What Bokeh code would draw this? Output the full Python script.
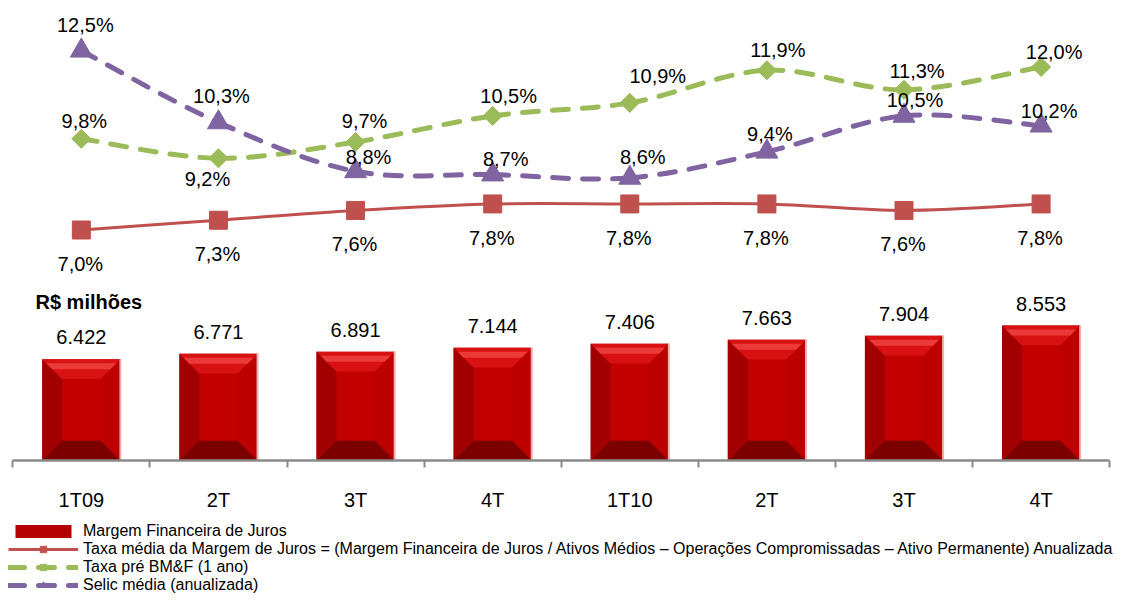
import numpy as np
from bokeh.plotting import figure
from bokeh.models import (Range1d, LinearAxis, FixedTicker, ColumnDataSource,
                          Label, Legend, LegendItem)
from bokeh.core.properties import value
from bokeh.embed import file_html
from bokeh.resources import INLINE

# ---------------- data ----------------
categories = ["1T09", "2T", "3T", "4T", "1T10", "2T", "3T", "4T"]
margem = [6422, 6771, 6891, 7144, 7406, 7663, 7904, 8553]          # R$ milhões
taxa_margem = [7.0, 7.3, 7.6, 7.8, 7.8, 7.8, 7.6, 7.8]              # %
taxa_pre = [9.8, 9.2, 9.7, 10.5, 10.9, 11.9, 11.3, 12.0]            # %
selic = [12.5, 10.3, 8.8, 8.7, 8.6, 9.4, 10.5, 10.2]                # %

legend_labels = [
    "Margem Financeira de Juros",
    "Taxa média da Margem de Juros = (Margem Financeira de Juros / Ativos Médios – "
    "Operações Compromissadas – Ativo Permanente) Anualizada",
    "Taxa pré BM&F (1 ano)",
    "Selic média (anualizada)",
]

# label offsets (pixels) – style only
red_dx = [-1] * 8
red_dy = [34] * 8
green_dx = [3, -11, 9, 16, 28, 11, 13, 13]
green_dy = [-18, 21, -21, -20, -27, -20, -19, -15]
purple_dx = [4, 3, 13, 13, 13, 3, 11, 8]
purple_dy = [-26, -26, -14, -16, -21, -18, -16, -15]

RED = "#c0504d"
GREEN = "#9bbb59"
PURPLE = "#8064a2"
FONT = "Liberation Sans"

n = len(categories)
xc = [i + 0.5 for i in range(n)]

p = figure(width=1113, height=594,
           x_range=Range1d(-0.0897, 8.028), y_range=Range1d(-8496, 29164),
           output_backend="svg", toolbar_location=None,
           x_axis_location=None, y_axis_location=None,
           min_border=0, outline_line_color=None, background_fill_color="white")
for g in p.grid:
    g.visible = False
p.extra_y_ranges = {"pct": Range1d(-4.181, 14.040)}

# ---------------- bars (bevelled) ----------------
PX = 1 / 137.1   # x data per pixel
PY = 63.4        # y data per pixel
hw = 0.285
bev = 20
bx, byy = bev * PX, bev * PY
L = [c - hw for c in xc]
R = [c + hw for c in xc]

bars = p.quad(left=L, right=R, bottom=0, top=margem, fill_color="#b40000", line_color=None)

def trap(pts_fn, color):
    xs, ys = [], []
    for l, r, v in zip(L, R, margem):
        pts = pts_fn(l, r, v)
        xs.append([q[0] for q in pts])
        ys.append([q[1] for q in pts])
    p.patches(xs=xs, ys=ys, fill_color=color, line_color=None)

# left, right, bottom, top bevels
trap(lambda l, r, v: [(l, 0), (l + bx, byy), (l + bx, v - byy), (l, v)], "#a20000")
trap(lambda l, r, v: [(r, 0), (r, v), (r - bx, v - byy), (r - bx, byy)], "#bd0000")
trap(lambda l, r, v: [(l, 0), (r, 0), (r - bx, byy), (l + bx, byy)], "#7c0000")
trap(lambda l, r, v: [(l, v), (r, v), (r - bx, v - byy), (l + bx, v - byy)], "#d81212")
# highlight band in top bevel
d1, d2 = 4, 10
trap(lambda l, r, v: [(l + d1 * PX, v - d1 * PY), (r - d1 * PX, v - d1 * PY),
                      (r - d2 * PX, v - d2 * PY), (l + d2 * PX, v - d2 * PY)], "#ec3a3a")
# inner face
p.quad(left=[l + bx for l in L], right=[r - bx for r in R], bottom=byy,
       top=[v - byy for v in margem], fill_color="#c20000", line_color=None)
# light right edge
p.segment(x0=R, y0=0, x1=R, y1=margem, line_color="#eeb0b0", line_width=2)

# bar value labels
bar_txt = [f"{v:,}".replace(",", ".") for v in margem]
p.text(x=xc, y=margem, text=bar_txt, y_offset=-22,
       text_font=value(FONT), text_font_size="20px",
       text_align="center", text_baseline="middle", text_color="black")

# ---------------- smoothed lines ----------------
def bezier_cols(vals):
    P = [np.array([x, y]) for x, y in zip(xc, vals)]
    cols = {k: [] for k in ["x0", "y0", "x1", "y1", "cx0", "cy0", "cx1", "cy1"]}
    m = len(P)
    for i in range(m - 1):
        p0 = P[i - 1] if i > 0 else P[i]
        p3 = P[i + 2] if i + 2 < m else P[i + 1]
        c0 = P[i] + (P[i + 1] - p0) / 6.0
        c1 = P[i + 1] - (p3 - P[i]) / 6.0
        cols["x0"].append(P[i][0]); cols["y0"].append(P[i][1])
        cols["x1"].append(P[i + 1][0]); cols["y1"].append(P[i + 1][1])
        cols["cx0"].append(c0[0]); cols["cy0"].append(c0[1])
        cols["cx1"].append(c1[0]); cols["cy1"].append(c1[1])
    return ColumnDataSource(cols)

BZ = dict(x0="x0", y0="y0", x1="x1", y1="y1", cx0="cx0", cy0="cy0", cx1="cx1", cy1="cy1",
          y_range_name="pct")
ln_red = p.bezier(source=bezier_cols(taxa_margem), line_color=RED, line_width=3, **BZ)
ln_green = p.bezier(source=bezier_cols(taxa_pre), line_color=GREEN, line_width=5,
                    line_dash="16 14", line_cap="round", **BZ)
ln_purple = p.bezier(source=bezier_cols(selic), line_color=PURPLE, line_width=5,
                     line_dash="16 14", line_cap="round", **BZ)

sq = p.scatter(xc, taxa_margem, marker="square", size=18, fill_color=RED, line_color=RED,
               y_range_name="pct")
dm = p.scatter(xc, taxa_pre, marker="square", angle=np.pi / 4, size=13.5, fill_color=GREEN,
               line_color=GREEN, y_range_name="pct")
tr = p.scatter(xc, selic, marker="triangle", size=22, fill_color=PURPLE, line_color=PURPLE,
               y_range_name="pct")

def pct_labels(vals, dx, dy):
    src = ColumnDataSource(dict(x=xc, y=vals,
                                t=[f"{v:.1f}".replace(".", ",") + "%" for v in vals],
                                dx=dx, dy=dy))
    p.text(x="x", y="y", text="t", x_offset="dx", y_offset="dy", source=src,
           text_font=value(FONT), text_font_size="20px", text_align="center",
           text_baseline="middle", text_color="black", y_range_name="pct")

pct_labels(taxa_margem, red_dx, red_dy)
pct_labels(taxa_pre, green_dx, green_dy)
pct_labels(selic, purple_dx, purple_dy)

# ---------------- x axis ----------------
xaxis = LinearAxis(ticker=FixedTicker(ticks=xc, minor_ticks=list(range(n + 1))),
                   fixed_location=0, bounds=(0, n))
xaxis.major_label_overrides = {x: c for x, c in zip(xc, categories)}
xaxis.axis_line_color = "#8a8a8a"
xaxis.axis_line_width = 2.5
xaxis.major_tick_line_color = None
xaxis.major_tick_out = 0
xaxis.major_tick_in = 0
xaxis.minor_tick_out = 7
xaxis.minor_tick_in = 0
xaxis.minor_tick_line_color = "#8a8a8a"
xaxis.minor_tick_line_width = 2
xaxis.major_label_standoff = 22
xaxis.major_label_text_font = FONT
xaxis.major_label_text_font_size = "20px"
xaxis.major_label_text_color = "black"
p.add_layout(xaxis, "below")

# ---------------- title label ----------------
p.add_layout(Label(x=35, y=293, x_units="screen", y_units="screen", text="R$ milhões",
                   text_font=FONT, text_font_style="bold", text_font_size="20px",
                   text_baseline="middle", text_align="left", text_color="black"))

# ---------------- legend ----------------
legend = Legend(items=[
    LegendItem(label=legend_labels[0], renderers=[bars]),
    LegendItem(label=legend_labels[1], renderers=[ln_red, sq]),
    LegendItem(label=legend_labels[2], renderers=[ln_green, dm]),
    LegendItem(label=legend_labels[3], renderers=[ln_purple, tr]),
], location=(8, 0), orientation="vertical", glyph_width=70, glyph_height=16,
    label_height=18, spacing=0, padding=0, margin=0, label_standoff=5,
    border_line_color=None, background_fill_alpha=0,
    label_text_font=FONT, label_text_font_size="16px", label_text_color="black")
p.add_layout(legend)

open("out.html", "w").write(file_html(p, INLINE))
